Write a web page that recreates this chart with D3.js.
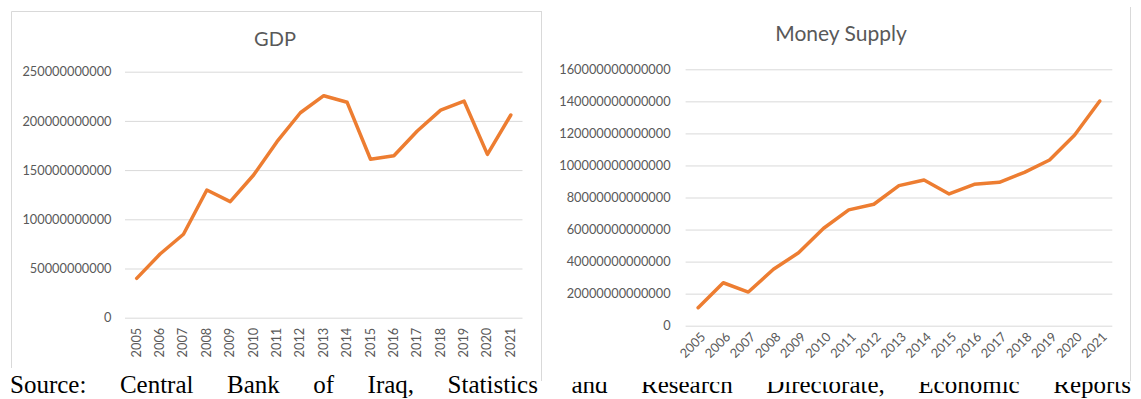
<!DOCTYPE html>
<html>
<head>
<meta charset="utf-8">
<script src="https://cdn.jsdelivr.net/npm/d3@7"></script>
<style>
  html, body { margin: 0; padding: 0; background: #fff; }
  svg { display: block; }
</style>
</head>
<body>
<svg id="page" width="1141" height="399"></svg>
<script>
// Years shared by both panels
const years = ["2005","2006","2007","2008","2009","2010","2011","2012","2013",
               "2014","2015","2016","2017","2018","2019","2020","2021"];

// Gross domestic product
const gdpValues = [40e9, 64.7e9, 84.8e9, 129.8e9, 117.9e9, 145e9, 178.9e9, 208.3e9, 225.6e9,
                   218.9e9, 161e9, 164.6e9, 189.7e9, 211e9, 220.2e9, 166e9, 206e9];
const gdpTicks = [0, 50e9, 100e9, 150e9, 200e9, 250e9];

// Money supply
const moneyValues = [11.2e12, 26.8e12, 21e12, 35.2e12, 45.5e12, 60.8e12, 72.3e12, 75.8e12, 87.4e12,
                     90.9e12, 82.2e12, 88.2e12, 89.5e12, 95.7e12, 103.4e12, 119e12, 140.2e12];
const moneyTicks = [0, 20e12, 40e12, 60e12, 80e12, 100e12, 120e12, 140e12, 160e12];

// Caption under the two charts
const sourceWords = ["Source:", "Central", "Bank", "of", "Iraq,", "Statistics", "and",
                     "Research", "Directorate,", "Economic", "Reports"];

const LINE = "#ED7D31", GRID = "#D9D9D9", LABEL = "#595959", BORDER = "#D9D9D9";
const FONT = "Lato, 'Open Sans', sans-serif";

const svg = d3.select("#page");

function drawChart(g, cfg) {
  const x = d3.scaleBand().domain(years).range([cfg.x0, cfg.x1]).padding(0);
  const y = d3.scaleLinear().domain([0, cfg.ticks[cfg.ticks.length - 1]]).range([cfg.yBottom, cfg.yTop]);

  // title
  g.append("text")
    .attr("x", cfg.titleX).attr("y", cfg.titleY)
    .attr("text-anchor", "middle")
    .attr("font-family", FONT).attr("font-size", cfg.titleSize)
    .attr("fill", LABEL)
    .text(cfg.title);

  // value axis with gridlines
  const yAxis = d3.axisLeft(y)
    .tickValues(cfg.ticks)
    .tickFormat(d3.format("d"))
    .tickSizeInner(-(cfg.x1 - cfg.x0))
    .tickSizeOuter(0)
    .tickPadding(cfg.tickPad);
  const ya = g.append("g").attr("transform", `translate(${cfg.x0},0)`).call(yAxis);
  ya.select(".domain").remove();
  ya.selectAll(".tick line").attr("stroke", GRID).attr("stroke-width", 1);
  ya.selectAll(".tick text")
    .attr("font-family", FONT).attr("font-size", cfg.labelSize).attr("fill", LABEL);

  // category axis
  const xAxis = d3.axisBottom(x).tickSize(0).tickPadding(0);
  const xa = g.append("g").attr("transform", `translate(0,${cfg.yBottom})`).call(xAxis);
  xa.select(".domain").remove();
  xa.selectAll(".tick text")
    .attr("font-family", FONT).attr("font-size", cfg.labelSize).attr("fill", LABEL)
    .attr("text-anchor", "end")
    .attr("dy", null)
    .attr("y", 0)
    .attr("transform", cfg.yearTransform);

  // series line
  const line = d3.line()
    .x((d, i) => x(years[i]) + x.bandwidth() / 2)
    .y(d => y(d));
  g.append("path")
    .datum(cfg.values)
    .attr("d", line)
    .attr("fill", "none")
    .attr("stroke", LINE)
    .attr("stroke-width", 3.5)
    .attr("stroke-linejoin", "round")
    .attr("stroke-linecap", "round");
}

// ---- left panel frame ----
const left = svg.append("g");
left.append("path")
  .attr("d", "M11.5,368 L11.5,11.5 L541.5,11.5")
  .attr("fill", "none").attr("stroke", BORDER).attr("stroke-width", 1);

drawChart(left, {
  title: "GDP", titleX: 275, titleY: 46, titleSize: 20,
  x0: 125, x1: 522.5, yBottom: 317.7, yTop: 71.7,
  ticks: gdpTicks, values: gdpValues, tickPad: 13.5, labelSize: 12.8,
  yearTransform: "translate(4,10) rotate(-90)"
});

// ---- caption, justified across the page ----
const cap = svg.append("g")
  .attr("font-family", "'Liberation Serif', 'Times New Roman', serif")
  .attr("font-size", 25).attr("fill", "#000");
const capTexts = cap.selectAll("text").data(sourceWords).join("text").text(d => d).attr("y", 393);
const widths = capTexts.nodes().map(n => n.getComputedTextLength());
const capLeft = 10, capRight = 1131;
const gap = (capRight - capLeft - d3.sum(widths)) / (sourceWords.length - 1);
let cx = capLeft;
capTexts.attr("x", (d, i) => { const v = cx; cx += widths[i] + gap; return v; });

// ---- right panel (drawn over the caption) ----
const right = svg.append("g");
right.append("rect")
  .attr("x", 541.5).attr("y", 0).attr("width", 589.5).attr("height", 382)
  .attr("fill", "#fff");
right.append("path")
  .attr("d", "M541.5,11 L541.5,381 M1130.5,7 L1130.5,381")
  .attr("fill", "none").attr("stroke", BORDER).attr("stroke-width", 1);

drawChart(right, {
  title: "Money Supply", titleX: 841, titleY: 41, titleSize: 21,
  x0: 685.6, x1: 1112.3, yBottom: 325.7, yTop: 69.3,
  ticks: moneyTicks, values: moneyValues, tickPad: 15, labelSize: 12.8,
  yearTransform: "translate(8,12) rotate(-45)"
});
</script>
</body>
</html>
